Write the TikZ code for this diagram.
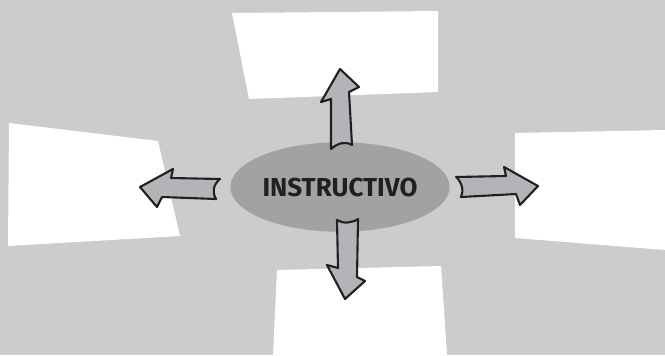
\documentclass[tikz,border=0pt]{standalone}
\usepackage{fontspec}
\setsansfont{Fira Sans}
\usetikzlibrary{shapes.geometric}
\definecolor{bggray}{RGB}{203,204,206}
\definecolor{ellgray}{RGB}{161,162,164}
\definecolor{arrowgray}{RGB}{179,180,183}
\definecolor{inkdark}{RGB}{35,31,32}
\tikzset{
  card/.style={fill=white},
  fatarrow/.style={fill=arrowgray, draw=inkdark, line width=1.2pt, line join=round}
}
\begin{document}
\begin{tikzpicture}[x=0.02cm, y=-0.02cm]
  % background
  \fill[bggray] (0,0) rectangle (665,355);
  \useasboundingbox (0,0) rectangle (665,355);
  % white cards
  \fill[card] (232,13) -- (438,11) -- (438,92) -- (249,99) -- cycle;
  \fill[card] (9,123) -- (158,141) -- (180,236) -- (8,246) -- cycle;
  \fill[card] (515,133) -- (665,130) -- (665,250) -- (515,238) -- cycle;
  \fill[card] (277,270) -- (441,266) -- (447,355) -- (273,355) -- cycle;
  % centre
  \node[ellipse, fill=ellgray, minimum width=123.6pt, minimum height=51pt,
        inner sep=0pt, font=\sffamily\bfseries\fontsize{14.8}{16}\selectfont,
        text=inkdark] (core) at (340,187) {INSTRUCTIVO};
  % arrows
  \draw[fatarrow] (331,149) -- (331,99) -- (321,102) -- (340,69) -- (359,87)
    -- (349,92) -- (352,145) .. controls (345,141) and (338,143) .. cycle;
  \draw[fatarrow] (220,179) -- (171,178) -- (173,169) -- (140,187) -- (157,207)
    -- (162,197) -- (216,199) .. controls (212,192) and (213,185) .. cycle;
  \draw[fatarrow] (456,177) -- (506,176) -- (504,167) -- (538,186) -- (520,205)
    -- (516,194) -- (461,197) .. controls (464,191) and (462,182) .. cycle;
  \draw[fatarrow] (337,220) -- (338,268) -- (327,265) -- (345,299) -- (365,281)
    -- (357,277) -- (358,219) .. controls (352,223) and (343,224) .. cycle;
\end{tikzpicture}
\end{document}
